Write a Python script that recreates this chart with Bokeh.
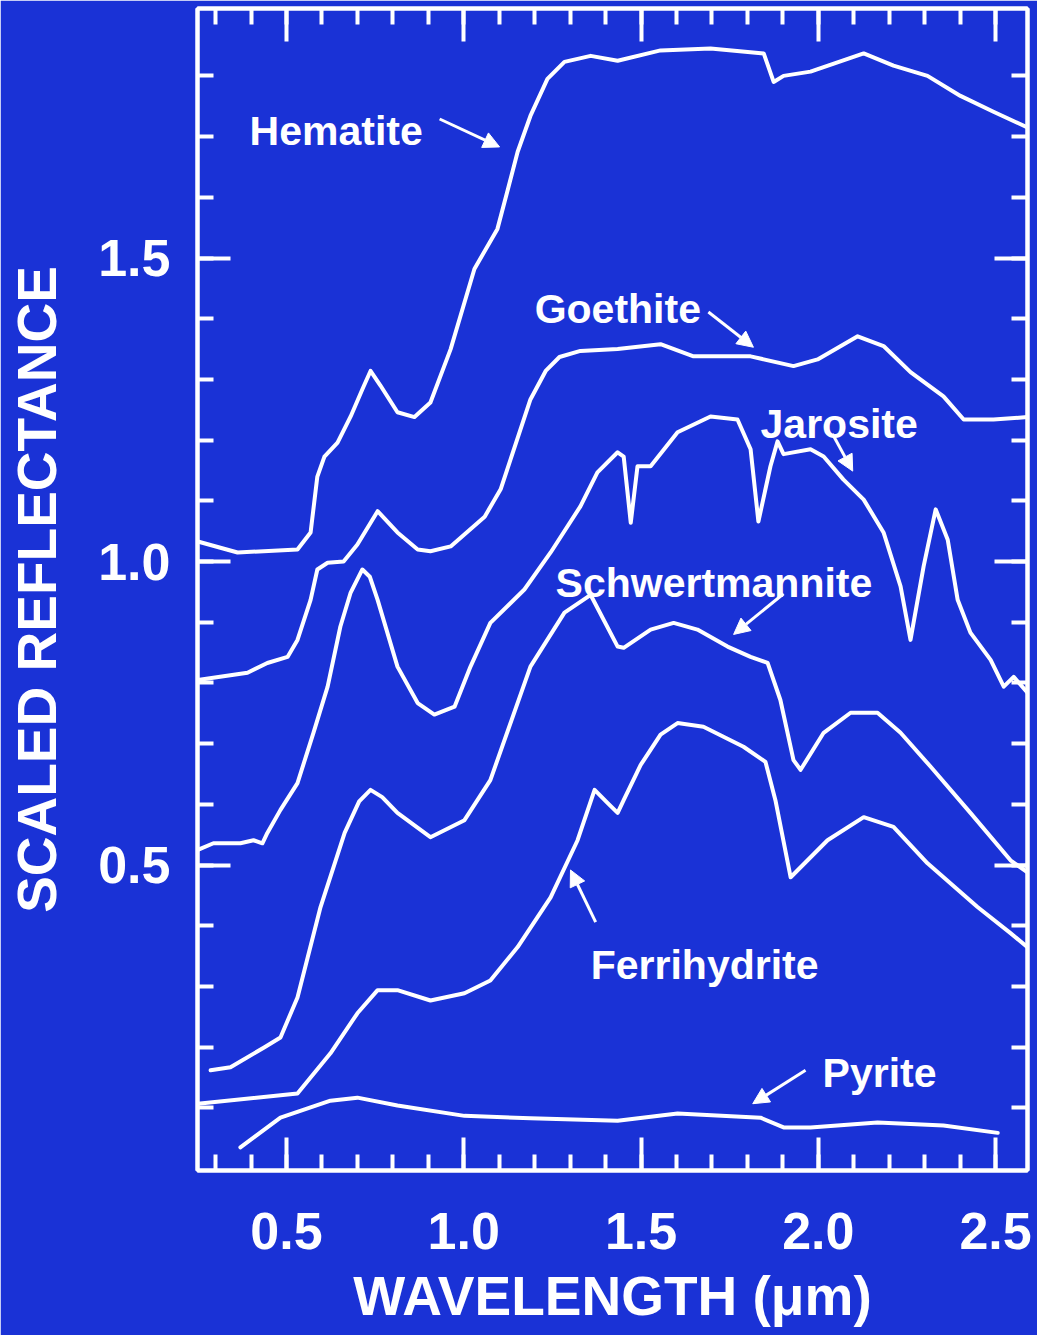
from bokeh.plotting import figure
from bokeh.models import (LinearAxis, FixedTicker, NumeralTickFormatter, CustomJSTickFormatter,
                          Range1d, Label, Arrow, NormalHead)
from bokeh.embed import file_html
from bokeh.resources import INLINE

BLUE = "#1a32d6"
WHITE = "#ffffff"
FONT = "Liberation Sans"

# ---------------- data (wavelength in micrometres, scaled reflectance) ----------------
hematite_x = [0.25, 0.362, 0.531, 0.568, 0.587, 0.607, 0.644, 0.681, 0.715, 0.737, 0.765, 0.813,
              0.861, 0.906, 0.963, 1.030, 1.095, 1.123, 1.152, 1.188, 1.236, 1.284, 1.358, 1.434,
              1.555, 1.696, 1.846, 1.874, 1.902, 1.978, 2.128, 2.212, 2.308, 2.401, 2.494, 2.590]
hematite_y = [1.033, 1.015, 1.020, 1.048, 1.140, 1.173, 1.196, 1.239, 1.285, 1.314, 1.290, 1.246,
              1.238, 1.262, 1.350, 1.482, 1.548, 1.610, 1.675, 1.734, 1.795, 1.823, 1.833, 1.825,
              1.842, 1.845, 1.837, 1.790, 1.800, 1.807, 1.837, 1.817, 1.800, 1.767, 1.741, 1.715]

goethite_x = [0.25, 0.390, 0.446, 0.503, 0.531, 0.568, 0.587, 0.616, 0.661, 0.700, 0.757, 0.813,
              0.870, 0.906, 0.963, 1.059, 1.104, 1.146, 1.188, 1.231, 1.270, 1.329, 1.434, 1.555,
              1.648, 1.809, 1.930, 1.998, 2.111, 2.184, 2.260, 2.353, 2.410, 2.494, 2.590]
goethite_y = [0.805, 0.817, 0.833, 0.843, 0.871, 0.937, 0.987, 0.998, 1.000, 1.028, 1.083, 1.048,
              1.020, 1.017, 1.025, 1.074, 1.119, 1.193, 1.267, 1.314, 1.337, 1.347, 1.350, 1.358,
              1.338, 1.338, 1.322, 1.333, 1.371, 1.355, 1.312, 1.272, 1.234, 1.234, 1.238]

jarosite_x = [0.25, 0.294, 0.370, 0.407, 0.432, 0.446, 0.483, 0.531, 0.576, 0.616, 0.652, 0.681,
              0.714, 0.735, 0.757, 0.813, 0.870, 0.917, 0.974, 1.019, 1.075, 1.171, 1.245, 1.329,
              1.377, 1.434, 1.451, 1.471, 1.490, 1.527, 1.603, 1.696, 1.772, 1.809, 1.831, 1.865,
              1.885, 1.902, 1.978, 2.015, 2.071, 2.128, 2.184, 2.232, 2.260, 2.297, 2.331, 2.365,
              2.393, 2.429, 2.486, 2.523, 2.551, 2.590]
jarosite_y = [0.525, 0.536, 0.536, 0.541, 0.536, 0.553, 0.591, 0.635, 0.718, 0.794, 0.893, 0.949,
              0.987, 0.975, 0.937, 0.827, 0.767, 0.748, 0.761, 0.827, 0.899, 0.954, 1.015, 1.091,
              1.147, 1.180, 1.173, 1.064, 1.157, 1.157, 1.213, 1.239, 1.234, 1.185, 1.066, 1.157,
              1.198, 1.177, 1.185, 1.173, 1.135, 1.102, 1.048, 0.959, 0.871, 0.992, 1.086, 1.036,
              0.937, 0.883, 0.838, 0.794, 0.810, 0.784]

schwert_x = [0.286, 0.342, 0.438, 0.483, 0.531, 0.596, 0.664, 0.705, 0.737, 0.770, 0.813, 0.906,
             1.002, 1.075, 1.188, 1.284, 1.358, 1.434, 1.451, 1.527, 1.592, 1.659, 1.744, 1.809,
             1.857, 1.893, 1.930, 1.950, 2.015, 2.091, 2.167, 2.232, 2.317, 2.429, 2.542, 2.590]
schwert_y = [0.162, 0.167, 0.200, 0.216, 0.282, 0.431, 0.553, 0.605, 0.624, 0.612, 0.586, 0.546,
             0.574, 0.640, 0.827, 0.916, 0.945, 0.860, 0.858, 0.888, 0.899, 0.888, 0.860, 0.843,
             0.833, 0.772, 0.673, 0.657, 0.718, 0.751, 0.751, 0.718, 0.662, 0.586, 0.508, 0.488]

ferri_x = [0.25, 0.531, 0.624, 0.700, 0.757, 0.813, 0.906, 1.002, 1.075, 1.152, 1.245, 1.321,
           1.369, 1.406, 1.434, 1.451, 1.499, 1.555, 1.603, 1.676, 1.789, 1.851, 1.879, 1.922,
           2.026, 2.128, 2.212, 2.308, 2.449, 2.542, 2.590]
ferri_y = [0.107, 0.124, 0.190, 0.256, 0.294, 0.294, 0.277, 0.289, 0.310, 0.365, 0.447, 0.541,
           0.624, 0.602, 0.586, 0.607, 0.665, 0.715, 0.734, 0.728, 0.695, 0.670, 0.607, 0.480,
           0.541, 0.579, 0.563, 0.503, 0.431, 0.388, 0.365]

pyrite_x = [0.370, 0.483, 0.624, 0.700, 0.813, 1.002, 1.188, 1.434, 1.603, 1.837, 1.902, 1.978,
            2.167, 2.353, 2.506]
pyrite_y = [0.035, 0.084, 0.112, 0.117, 0.104, 0.087, 0.083, 0.079, 0.091, 0.084, 0.068, 0.068,
            0.076, 0.071, 0.059]

x_major = [0.5, 1.0, 1.5, 2.0, 2.5]
y_major = [0.5, 1.0, 1.5]
x_minor = [round(0.3 + 0.1 * i, 1) for i in range(23)]
y_minor = [round(0.1 * i, 1) for i in range(1, 19)]

series = [(hematite_x, hematite_y), (goethite_x, goethite_y), (jarosite_x, jarosite_y),
          (schwert_x, schwert_y), (ferri_x, ferri_y), (pyrite_x, pyrite_y)]

# name, text left, baseline, arrow tail (x, y), arrow tip (x, y)
annotations = [
    ("Hematite", 0.396, 1.710, (0.932, 1.729), (1.101, 1.683)),
    ("Goethite", 1.200, 1.416, (1.690, 1.411), (1.817, 1.353)),
    ("Jarosite", 1.837, 1.226, (2.040, 1.210), (2.097, 1.149)),
    ("Schwertmannite", 1.259, 0.965, (1.902, 0.947), (1.761, 0.880)),
    ("Ferrihydrite", 1.358, 0.335, (1.372, 0.406), (1.301, 0.492)),
    ("Pyrite", 2.012, 0.157, (1.964, 0.162), (1.815, 0.107)),
]

# ---------------- figure ----------------
p = figure(width=1037, height=1335, output_backend="svg", toolbar_location=None,
           x_range=Range1d(0.249, 2.590), y_range=Range1d(-0.003, 1.911),
           x_axis_location=None, y_axis_location=None,
           min_border_left=197, min_border_right=10, min_border_top=8, min_border_bottom=165)
p.background_fill_color = BLUE
p.border_fill_color = BLUE
p.outline_line_color = WHITE
p.outline_line_width = 4
p.grid.grid_line_color = None


def style_axis(ax, labelled):
    ax.axis_line_color = WHITE
    ax.axis_line_width = 4
    ax.major_tick_line_color = WHITE
    ax.minor_tick_line_color = WHITE
    ax.major_tick_line_width = 4
    ax.minor_tick_line_width = 4
    ax.major_tick_in = 33
    ax.major_tick_out = 0
    ax.minor_tick_in = 16
    ax.minor_tick_out = 0
    if labelled:
        ax.formatter = NumeralTickFormatter(format="0.0")
        ax.major_label_text_color = WHITE
        ax.major_label_text_font = FONT
        ax.major_label_text_font_style = "bold"
        ax.major_label_text_font_size = "52px"
        ax.axis_label_text_color = WHITE
        ax.axis_label_text_font = FONT
        ax.axis_label_text_font_style = "bold"
        ax.axis_label_text_font_size = "55px"
    else:
        ax.formatter = CustomJSTickFormatter(code="return ''")
        ax.major_label_text_font_size = "0px"
        ax.major_label_standoff = 0


bottom = LinearAxis(ticker=FixedTicker(ticks=x_major, minor_ticks=x_minor))
style_axis(bottom, True)
bottom.axis_label = "WAVELENGTH (μm)"
bottom.major_label_standoff = 42
bottom.axis_label_standoff = 13
p.add_layout(bottom, "below")

top = LinearAxis(ticker=FixedTicker(ticks=x_major, minor_ticks=x_minor))
style_axis(top, False)
p.add_layout(top, "above")

left = LinearAxis(ticker=FixedTicker(ticks=y_major, minor_ticks=y_minor))
style_axis(left, True)
left.axis_label = "SCALED REFLECTANCE"
left.major_label_standoff = 27
left.axis_label_standoff = 27
p.add_layout(left, "left")

right = LinearAxis(ticker=FixedTicker(ticks=y_major, minor_ticks=y_minor))
style_axis(right, False)
p.add_layout(right, "right")

for xs, ys in series:
    p.line(xs, ys, line_color=WHITE, line_width=4, line_join="round", line_cap="round")

for name, tx, ty, (ax0, ay0), (ax1, ay1) in annotations:
    p.add_layout(Label(x=tx, y=ty, text=name, text_color=WHITE, text_font=FONT,
                       text_font_style="bold", text_font_size="41px",
                       text_align="left", text_baseline="alphabetic"))
    p.add_layout(Arrow(end=NormalHead(size=16, fill_color=WHITE, line_color=WHITE, line_width=1),
                       x_start=ax0, y_start=ay0, x_end=ax1, y_end=ay1,
                       line_color=WHITE, line_width=3))

open("out.html", "w").write(file_html(p, INLINE))
